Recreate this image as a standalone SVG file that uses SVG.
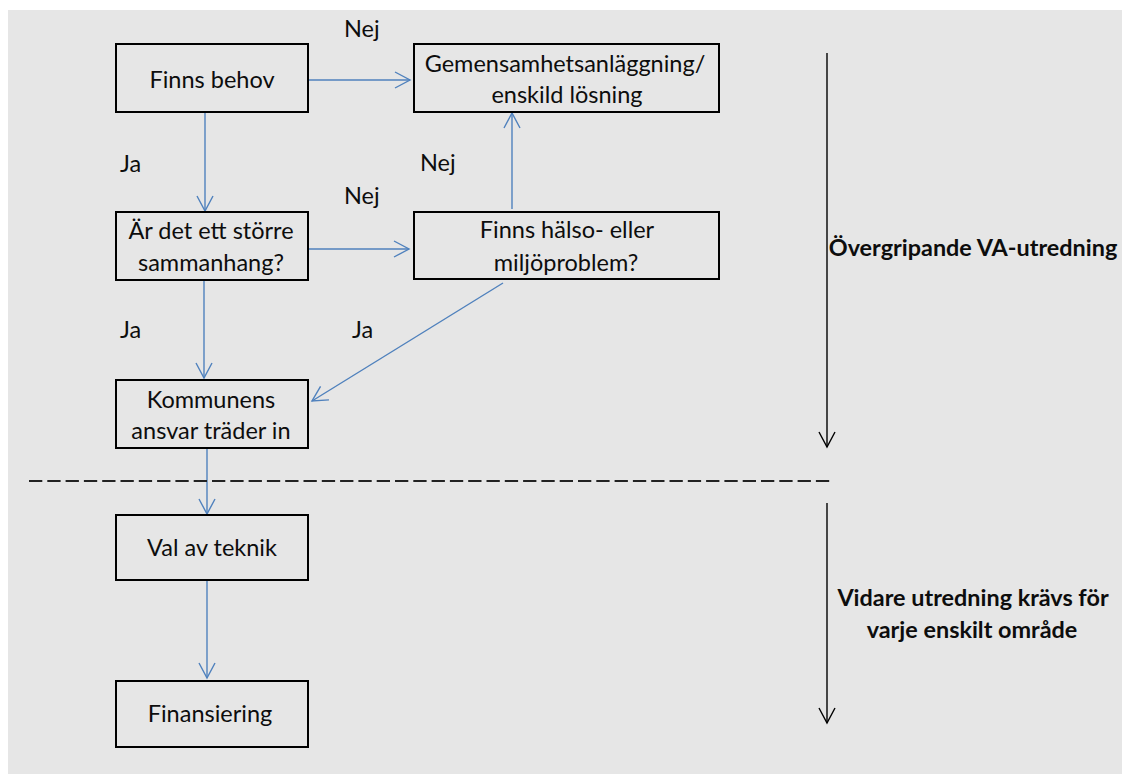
<svg xmlns="http://www.w3.org/2000/svg" width="1122" height="774" viewBox="0 0 1122 774">
  <style>
    .box { fill: none; stroke: #000; stroke-width: 2; }
    .t { font-family: Lato, "Liberation Sans", sans-serif; font-size: 23.5px; fill: #0d0d0d; text-anchor: middle; }
    .lbl { font-family: Lato, "Liberation Sans", sans-serif; font-size: 23.5px; fill: #0d0d0d; }
    .b { font-family: Lato, "Liberation Sans", sans-serif; font-size: 23.4px; font-weight: bold; fill: #0d0d0d; text-anchor: middle; }
    .c { fill: none; stroke: #4f81bd; stroke-width: 1.4; }
    .k { fill: none; stroke: #000; stroke-width: 1.4; }
  </style>
  <defs>
    <marker id="ab" markerUnits="userSpaceOnUse" markerWidth="18" markerHeight="18" viewBox="0 0 18 18" refX="16" refY="9" orient="auto">
      <path d="M1,1 L16,9 L1,17" fill="none" stroke="#4f81bd" stroke-width="1.4"/>
    </marker>
    <marker id="ak" markerUnits="userSpaceOnUse" markerWidth="18" markerHeight="18" viewBox="0 0 18 18" refX="16" refY="9" orient="auto">
      <path d="M1,1 L16,9 L1,17" fill="none" stroke="#000" stroke-width="1.4"/>
    </marker>
  </defs>
  <rect x="0" y="0" width="1122" height="774" fill="#ffffff"/>
  <rect x="8" y="10" width="1114" height="764" fill="#e6e6e6"/>

  <g id="connectors">
    <line class="c" x1="308" y1="80" x2="410" y2="80" marker-end="url(#ab)"/>
    <line class="c" x1="205" y1="112" x2="205" y2="211" marker-end="url(#ab)"/>
    <line class="c" x1="308" y1="249" x2="409" y2="249" marker-end="url(#ab)"/>
    <line class="c" x1="512" y1="209" x2="512" y2="113" marker-end="url(#ab)"/>
    <line class="c" x1="204" y1="280" x2="204" y2="378" marker-end="url(#ab)"/>
    <line class="c" x1="503" y1="283" x2="312" y2="401" marker-end="url(#ab)"/>
    <line class="c" x1="207" y1="448" x2="207" y2="514" marker-end="url(#ab)"/>
    <line class="c" x1="207" y1="580" x2="207" y2="678" marker-end="url(#ab)"/>
    <line class="k" x1="827" y1="53" x2="827" y2="447" marker-end="url(#ak)"/>
    <line class="k" x1="827" y1="503" x2="827" y2="723" marker-end="url(#ak)"/>
    <line x1="29" y1="481" x2="830" y2="481" stroke="#222" stroke-width="1.8" stroke-dasharray="13.3 5"/>
  </g>

  <g id="labels">
    <text class="lbl" x="344" y="37">Nej</text>
    <text class="lbl" x="420" y="171">Nej</text>
    <text class="lbl" x="344" y="204">Nej</text>
    <text class="lbl" x="120" y="172">Ja</text>
    <text class="lbl" x="120" y="338">Ja</text>
    <text class="lbl" x="352" y="338">Ja</text>
  </g>

  <g id="n-finns-behov">
    <rect class="box" x="116" y="44" width="192" height="68"/>
    <text class="t" x="212" y="88">Finns behov</text>
  </g>
  <g id="n-gemensam">
    <rect class="box" x="414" y="44" width="305" height="68"/>
    <text class="t" x="565" y="72">Gemensamhetsanläggning/</text>
    <text class="t" x="567" y="103">enskild lösning</text>
  </g>
  <g id="n-storre">
    <rect class="box" x="116" y="212" width="192" height="68"/>
    <text class="t" x="211" y="239">Är det ett större</text>
    <text class="t" x="211" y="271">sammanhang?</text>
  </g>
  <g id="n-halso">
    <rect class="box" x="414" y="212" width="305" height="67"/>
    <text class="t" x="567" y="238">Finns hälso- eller</text>
    <text class="t" x="566" y="271">miljöproblem?</text>
  </g>
  <g id="n-kommunens">
    <rect class="box" x="116" y="380" width="192" height="68"/>
    <text class="t" x="211" y="408">Kommunens</text>
    <text class="t" x="211" y="439">ansvar träder in</text>
  </g>
  <g id="n-val">
    <rect class="box" x="116" y="515" width="192" height="65"/>
    <text class="t" x="212" y="556">Val av teknik</text>
  </g>
  <g id="n-finansiering">
    <rect class="box" x="116" y="681" width="192" height="66"/>
    <text class="t" x="210" y="722">Finansiering</text>
  </g>
  <g id="n-overgripande">
    <text class="b" x="973" y="256">Övergripande VA-utredning</text>
  </g>
  <g id="n-vidare">
    <text class="b" x="973" y="606">Vidare utredning krävs för</text>
    <text class="b" x="972" y="638">varje enskilt område</text>
  </g>
</svg>
